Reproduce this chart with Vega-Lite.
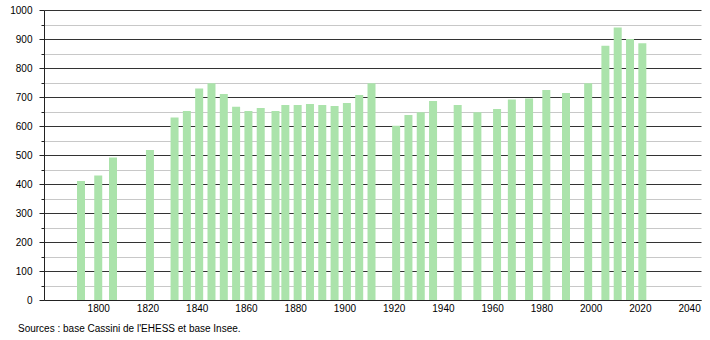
{
  "$schema": "https://vega.github.io/schema/vega-lite/v6.json",
  "width": 657,
  "height": 290,
  "autosize": "none",
  "padding": {"left": 44, "top": 10, "right": 9, "bottom": 40},
  "background": "white",
  "config": {"view": {"stroke": null}, "font": "Liberation Sans"},
  "title": {
    "text": "Sources : base Cassini de l'EHESS et base Insee.",
    "orient": "bottom",
    "anchor": "start",
    "frame": "group",
    "dx": -26,
    "offset": 11,
    "fontSize": 10,
    "fontWeight": "normal",
    "color": "#000",
    "font": "Liberation Sans"
  },
  "data": {"values": [
    {"year": 1793, "pop": 410}, {"year": 1800, "pop": 429}, {"year": 1806, "pop": 491},
    {"year": 1821, "pop": 517}, {"year": 1831, "pop": 629}, {"year": 1836, "pop": 652},
    {"year": 1841, "pop": 729}, {"year": 1846, "pop": 747}, {"year": 1851, "pop": 710},
    {"year": 1856, "pop": 666}, {"year": 1861, "pop": 652}, {"year": 1866, "pop": 662},
    {"year": 1872, "pop": 652}, {"year": 1876, "pop": 672}, {"year": 1881, "pop": 672},
    {"year": 1886, "pop": 676}, {"year": 1891, "pop": 672}, {"year": 1896, "pop": 669},
    {"year": 1901, "pop": 679}, {"year": 1906, "pop": 707}, {"year": 1911, "pop": 747},
    {"year": 1921, "pop": 601}, {"year": 1926, "pop": 638}, {"year": 1931, "pop": 647},
    {"year": 1936, "pop": 686}, {"year": 1946, "pop": 672}, {"year": 1954, "pop": 647},
    {"year": 1962, "pop": 659}, {"year": 1968, "pop": 691}, {"year": 1975, "pop": 695},
    {"year": 1982, "pop": 724}, {"year": 1990, "pop": 714}, {"year": 1999, "pop": 747},
    {"year": 2006, "pop": 877}, {"year": 2011, "pop": 940}, {"year": 2016, "pop": 900},
    {"year": 2021, "pop": 885}
  ]},
  "mark": {"type": "bar", "size": 8, "color": "#abe3ab"},
  "encoding": {
    "x": {
      "field": "year", "type": "quantitative",
      "scale": {"domain": [1780, 2042.8], "nice": false, "zero": false},
      "axis": {
        "title": null,
        "values": [1800, 1820, 1840, 1860, 1880, 1900, 1920, 1940, 1960, 1980, 2000, 2020, 2040],
        "format": "d",
        "ticks": false,
        "grid": false,
        "domainColor": "#222",
        "domainWidth": 1,
        "labelFontSize": 10,
        "labelColor": "#000",
        "labelPadding": 3,
        "labelFont": "Liberation Sans"
      }
    },
    "y": {
      "field": "pop", "type": "quantitative",
      "scale": {"domain": [0, 1000], "nice": false},
      "axis": {
        "title": null,
        "values": [0, 50, 100, 150, 200, 250, 300, 350, 400, 450, 500, 550, 600, 650, 700, 750, 800, 850, 900, 950, 1000],
        "format": "d",
        "labelExpr": "datum.value % 100 === 0 ? datum.label : ''",
        "grid": true,
        "gridColor": {"condition": {"test": "datum.value % 100 === 0", "value": "#333"}, "value": "#c8c8c8"},
        "gridWidth": 1,
        "tickColor": "#222",
        "tickSize": {"condition": {"test": "datum.value % 100 === 0", "value": 5}, "value": 3},
        "domainColor": "#222",
        "labelFontSize": 10,
        "labelColor": "#000",
        "labelPadding": 7,
        "labelFont": "Liberation Sans"
      }
    }
  }
}
